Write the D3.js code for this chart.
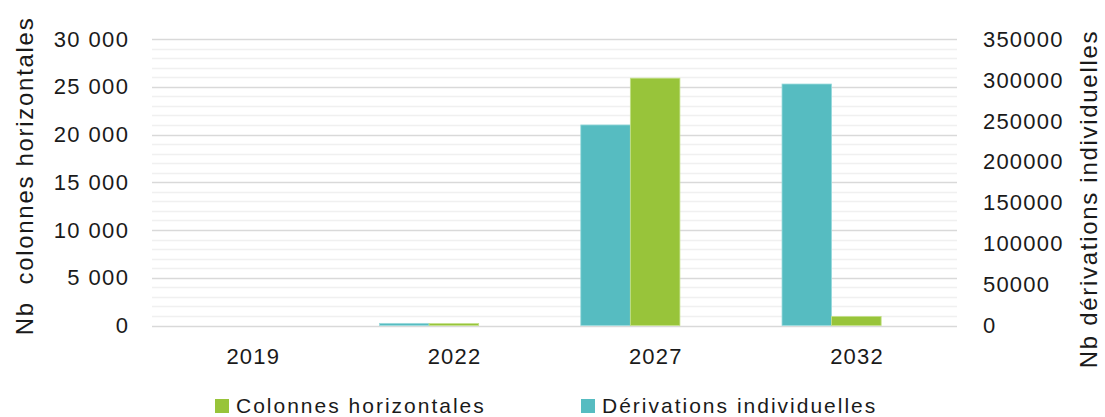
<!DOCTYPE html>
<html><head><meta charset="utf-8">
<script src="https://cdn.jsdelivr.net/npm/d3@7"></script>
<style>
body{margin:0;background:#fff;}
text{font-family:"Liberation Sans",Arial,sans-serif;fill:#1a1a1a;}
</style></head>
<body>
<svg id="chart" width="1105" height="417"></svg>
<script>
const categories = ["2019","2022","2027","2032"];
const colonnesHorizontales = [0, 200, 25900, 950];       // left axis
const derivationsIndividuelles = [0, 2600, 245000, 295000]; // right axis
const leftTicks = [0,5000,10000,15000,20000,25000,30000];
const leftTickLabels = ["0","5 000","10 000","15 000","20 000","25 000","30 000"];
const rightTicks = [0,50000,100000,150000,200000,250000,300000,350000];
const rightTickLabels = ["0","50000","100000","150000","200000","250000","300000","350000"];
const seriesNames = ["Colonnes horizontales","Dérivations individuelles"];
const colors = {"Colonnes horizontales":"#98c43a","Dérivations individuelles":"#56bcc1"};

const svg = d3.select("#chart");
const L = 152, R = 957, T = 39, B = 325.5;

const x = d3.scaleBand().domain(categories).range([L, R]).padding(0);
const slots = ["Dérivations individuelles","Colonnes horizontales","_"];
const x1 = d3.scaleBand().domain(slots).range([0, x.bandwidth()]).paddingInner(0).paddingOuter(0.53);
const yL = d3.scaleLinear().domain([0,30000]).range([B, T]);
const yR = d3.scaleLinear().domain([0,350000]).range([B, T]);

// minor gridlines
const minor = d3.range(0, 30001, 1000).filter(v => v % 5000 !== 0);
svg.append("g").selectAll("line").data(minor).join("line")
  .attr("x1", L).attr("x2", R)
  .attr("y1", d => Math.round(yL(d))+0.5).attr("y2", d => Math.round(yL(d))+0.5)
  .attr("stroke", "#f0f0f0").attr("stroke-width", 1.5);
// major gridlines
svg.append("g").selectAll("line").data(leftTicks).join("line")
  .attr("x1", L).attr("x2", R)
  .attr("y1", d => Math.round(yL(d))+0.5).attr("y2", d => Math.round(yL(d))+0.5)
  .attr("stroke", "#d9d9d9").attr("stroke-width", 1.5);

// bars
const rows = categories.map((c,i) => ({cat:c, vals:[
  {key:"Dérivations individuelles", v:derivationsIndividuelles[i], scale:yR},
  {key:"Colonnes horizontales", v:colonnesHorizontales[i], scale:yL}
]}));
const g = svg.append("g").selectAll("g").data(rows).join("g")
  .attr("transform", d => `translate(${x(d.cat)},0)`);
g.selectAll("rect").data(d => d.vals.filter(e => e.v > 0)).join("rect")
  .attr("x", d => x1(d.key)).attr("width", x1.bandwidth())
  .attr("y", d => d.scale(d.v)).attr("height", d => B - d.scale(d.v))
  .attr("fill", d => colors[d.key])
  .attr("stroke", d => d.key === "Colonnes horizontales" ? "#c4e08a" : "#9adadc")
  .attr("stroke-width", 0.8);

// left axis labels
const fs = 22, ls = 1.4;
svg.append("g").selectAll("text").data(leftTicks).join("text")
  .attr("x", 128 + ls).attr("y", d => yL(d)).attr("dy", "0.35em")
  .attr("text-anchor", "end").style("font-size", fs+"px").style("letter-spacing", ls+"px")
  .text((d,i) => leftTickLabels[i]);
// right axis labels
svg.append("g").selectAll("text").data(rightTicks).join("text")
  .attr("x", 983).attr("y", d => yR(d)).attr("dy", "0.35em")
  .attr("text-anchor", "start").style("font-size", fs+"px").style("letter-spacing", "1.2px")
  .text((d,i) => rightTickLabels[i]);
// x labels
svg.append("g").selectAll("text").data(categories).join("text")
  .attr("x", d => x(d) + x.bandwidth()/2 + ls/2).attr("y", 364)
  .attr("text-anchor", "middle").style("font-size", fs+"px").style("letter-spacing", "1.2px")
  .text(d => d);

// axis titles
svg.append("text").attr("transform", "translate(33,176) rotate(-90)")
  .attr("text-anchor", "middle").style("font-size", "24px").style("letter-spacing", "1.7px")
  .attr("xml:space","preserve")
  .text("Nb  colonnes horizontales");
svg.append("text").attr("transform", "translate(1097,199) rotate(-90)")
  .attr("text-anchor", "middle").style("font-size", "24px").style("letter-spacing", "1.7px")
  .text("Nb dérivations individuelles");

// legend
const legX = [215, 581];
const lg = svg.append("g").selectAll("g").data(seriesNames).join("g")
  .attr("transform", (d,i) => `translate(${legX[i]},399)`);
lg.append("rect").attr("width", 14).attr("height", 14).attr("fill", d => colors[d]);
lg.append("text").attr("x", 21).attr("y", 14).style("font-size", "21px")
  .style("letter-spacing", "2px").text(d => d);
</script>
</body></html>
